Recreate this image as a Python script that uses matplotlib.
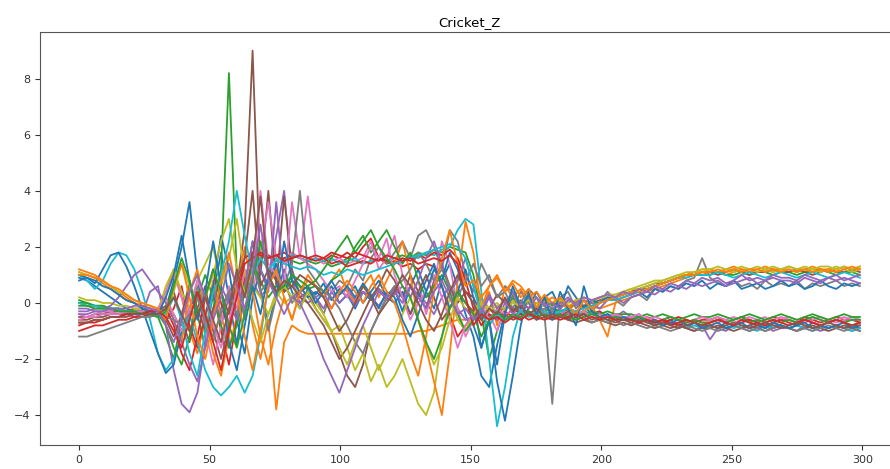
import numpy as np
import matplotlib
matplotlib.use("Agg")
import matplotlib.pyplot as plt

# sample positions (every 3rd step of the 300-step series)
t = np.linspace(0, 299, 100)

# series values, 10 values per row
s0 = [0.9, 0.8, 0.6, 0.4, 0.2, 0.0, -0.2, -0.3, -0.3, -0.4,
      -0.5, -0.2, 0.8, 2.0, 3.6, 1.0, -1.2, 0.3, 1.8, 0.2,
      -1.5, 0.6, 2.2, 0.5, -0.8, 0.3, 1.2, 0.4, -0.2, 0.5,
      0.3, 0.7, 0.1, 0.5, 0.2, 0.6, 0.0, 0.4, 0.8, 0.2,
      0.5, -0.3, 0.6, 1.2, 0.4, -0.2, 0.8, 1.4, 0.6, -0.4,
      -1.2, -2.6, -3.0, -1.5, -0.3, 0.2, -0.6, -0.2, 0.4, -0.1,
      -0.4, -0.2, -0.6, -0.3, -0.1, -0.4, -0.3, -0.5, -0.4, -0.6,
      -0.5, -0.7, -0.6, -0.8, -0.7, -0.6, -0.8, -0.9, -0.7, -0.8,
      -0.8, -0.9, -0.7, -0.8, -0.9, -0.8, -0.7, -0.9, -0.8, -0.8,
      -0.9, -0.8, -0.9, -0.7, -0.8, -0.9, -0.8, -0.9, -0.8, -0.9]
s1 = [1.1, 1.0, 0.9, 0.7, 0.5, 0.3, 0.1, 0.0, -0.1, -0.2,
      -0.3, 0.4, 1.2, 0.2, -1.0, -1.8, -0.6, 0.8, -0.4, -1.6,
      -0.5, 1.0, -0.8, -2.0, -0.6, -3.8, -1.4, -0.8, -1.0, -1.1,
      -1.1, -1.1, -1.1, -1.1, -1.1, -1.1, -1.1, -1.1, -1.1, -1.1,
      -1.1, -1.1, -1.1, -1.0, -1.0, -0.9, -0.8, -0.7, -0.6, -0.6,
      -0.5, -0.2, 0.4, -0.8, 0.6, 0.2, 0.5, 0.0, -0.3, 0.1,
      -0.1, 0.2, -0.3, 0.0, -0.2, -0.1, -0.2, -0.1, 0.0, 0.1,
      0.2, 0.3, 0.4, 0.5, 0.6, 0.7, 0.8, 0.9, 1.0, 1.0,
      1.1, 1.1, 1.0, 1.1, 1.2, 1.1, 1.1, 1.2, 1.1, 1.2,
      1.1, 1.2, 1.1, 1.2, 1.2, 1.1, 1.2, 1.1, 1.2, 1.2]
s2 = [0.1, 0.0, -0.1, -0.1, -0.2, -0.2, -0.3, -0.3, -0.4, -0.4,
      -0.5, -1.2, -2.0, -0.6, 0.8, -0.4, -1.6, -0.2, 1.2, 8.2,
      1.0, 0.2, 1.4, 1.6, 1.7, 1.5, 1.6, 1.5, 1.4, 1.5,
      1.4, 1.5, 1.3, 1.4, 1.6, 1.5, 1.4, 1.5, 1.6, 1.5,
      1.6, 1.7, 1.6, 1.8, 1.7, 1.9, 1.8, 2.0, 1.9, 1.8,
      1.0, -0.4, -2.0, -1.0, -0.2, 0.3, -0.4, 0.1, -0.2, 0.2,
      -0.1, 0.1, -0.2, 0.0, -0.1, 0.0, 0.0, 0.1, 0.2, 0.3,
      0.4, 0.5, 0.5, 0.6, 0.7, 0.8, 0.9, 1.0, 1.0, 1.0,
      1.0, 1.1, 1.0, 1.0, 1.1, 1.0, 1.1, 1.1, 1.0, 1.1,
      1.1, 1.0, 1.1, 1.1, 1.2, 1.1, 1.0, 1.1, 1.1, 1.0]
s3 = [-0.8, -0.7, -0.7, -0.6, -0.5, -0.5, -0.4, -0.4, -0.3, -0.3,
      -0.4, -0.6, -0.2, 0.6, -0.8, -1.6, -0.4, 0.4, -1.0, -2.2,
      -0.6, 0.8, 1.8, 1.6, 1.7, 1.5, 1.6, 1.7, 1.6, 1.5,
      1.6, 1.5, 1.7, 1.6, 1.8, 1.6, 2.0, 2.3, 1.6, 1.4,
      1.5, 1.3, 1.4, 1.2, 1.4, 1.3, 0.6, -0.4, -1.2, -0.8,
      -0.4, -0.2, -0.6, -0.3, -0.5, -0.2, -0.4, -0.3, -0.5, -0.4,
      -0.3, -0.4, -0.2, -0.4, -0.3, -0.4, -0.3, -0.5, -0.4, -0.5,
      -0.5, -0.6, -0.5, -0.6, -0.7, -0.6, -0.5, -0.6, -0.7, -0.6,
      -0.6, -0.5, -0.7, -0.6, -0.5, -0.6, -0.7, -0.6, -0.5, -0.6,
      -0.6, -0.7, -0.5, -0.6, -0.7, -0.6, -0.5, -0.6, -0.6, -0.7]
s4 = [-0.2, -0.2, -0.3, -0.3, -0.3, -0.4, -0.4, -0.5, -0.4, 0.4,
      0.6, -0.8, -2.4, -3.6, -3.9, -3.2, -1.4, 0.6, -0.8, 0.2,
      1.0, -0.4, 0.8, 0.2, 0.6, 2.4, 4.0, 0.8, 0.0, 0.4,
      0.2, 0.4, -0.2, 0.3, 0.5, 0.1, 0.4, 0.2, -0.1, 0.3,
      0.5, 0.2, 0.6, 0.3, 0.0, -0.4, 0.2, 0.6, -0.2, -0.6,
      -0.5, -0.5, -0.5, -0.5, -0.6, -0.5, -0.5, -0.4, -0.5, -0.4,
      -0.5, -0.4, -0.5, -0.3, -0.4, -0.5, -0.6, -0.4, -0.5, -0.3,
      -0.5, -0.4, -0.6, -0.7, -0.6, -0.8, -0.7, -0.9, -1.0, -0.8,
      -1.3, -0.9, -1.0, -0.8, -0.9, -1.0, -0.9, -0.8, -1.0, -0.9,
      -0.9, -1.0, -0.8, -0.9, -1.0, -0.9, -0.8, -0.9, -1.0, -0.9]
s5 = [-0.5, -0.5, -0.4, -0.4, -0.3, -0.3, -0.3, -0.2, -0.2, -0.2,
      -0.3, -0.1, 0.4, -0.6, -1.4, -0.2, 0.6, -1.0, -2.0, -0.8,
      0.6, 2.6, 9.0, 1.0, 4.0, 0.6, 3.8, 1.2, 0.2, 0.4,
      -0.2, -0.6, -1.0, -1.8, -2.6, -3.0, -2.2, -1.0, -0.4, 0.2,
      0.6, 0.2, 1.0, 0.4, -0.2, 0.8, 1.4, 0.6, 0.0, 0.4,
      0.2, -0.4, -0.2, 0.3, 0.0, -0.3, 0.1, -0.2, 0.0, -0.1,
      0.0, -0.2, 0.1, 0.0, -0.1, 0.0, 0.1, 0.2, 0.2, 0.3,
      0.4, 0.5, 0.6, 0.7, 0.7, 0.8, 0.9, 1.0, 1.0, 1.1,
      1.1, 1.0, 1.1, 1.2, 1.1, 1.0, 1.1, 1.1, 1.2, 1.1,
      1.1, 1.2, 1.1, 1.0, 1.1, 1.2, 1.1, 1.1, 1.2, 1.1]
s6 = [-0.4, -0.5, -0.4, -0.3, -0.3, -0.4, -0.3, -0.3, -0.3, -0.3,
      -0.2, 0.4, 1.0, 0.2, -0.6, 0.4, -1.0, -2.2, -0.8, 0.6,
      -0.2, 1.2, 0.4, 1.8, 3.6, 1.6, 1.4, 1.8, 1.6, 3.8,
      1.6, 1.4, 1.5, 1.6, 1.4, 1.5, 1.6, 2.2, 1.2, 1.6,
      2.4, 1.0, 0.2, 0.8, -0.4, 0.6, 2.2, 1.4, -0.2, -1.2,
      -0.6, 0.2, -0.4, -1.0, -0.2, 0.4, -0.3, 0.1, -0.4, -0.2,
      -0.3, -0.2, -0.4, -0.3, -0.5, -0.3, -0.4, -0.5, -0.4, -0.5,
      -0.5, -0.6, -0.5, -0.7, -0.6, -0.5, -0.6, -0.7, -0.6, -0.5,
      -0.6, -0.7, -0.6, -0.5, -0.6, -0.7, -0.6, -0.5, -0.7, -0.6,
      -0.5, -0.6, -0.7, -0.6, -0.5, -0.6, -0.7, -0.6, -0.5, -0.6]
s7 = [0.0, -0.1, -0.1, -0.2, -0.2, -0.3, -0.3, -0.3, -0.4, -0.4,
      -0.5, -0.6, -0.4, -1.0, -0.2, 0.6, -0.8, -1.4, -0.2, 0.4,
      0.8, -0.6, 1.6, 0.4, -1.0, 0.2, 0.8, 0.0, 0.4, 0.6,
      0.2, -0.4, 0.4, 0.8, 0.6, 1.2, 0.8, 1.6, 2.0, 1.4,
      1.8, 2.2, 1.6, 2.4, 2.6, 2.0, 1.2, 2.6, 2.2, 1.0,
      0.4, 1.4, 0.8, 0.2, 0.6, 0.4, 0.0, 0.5, 0.2, -0.4,
      -3.6, 0.2, 0.4, -0.2, 0.1, -0.3, 0.0, 0.4, 0.1, -0.1,
      0.2, 0.3, 0.1, 0.5, 0.4, 0.6, 0.5, 0.8, 0.9, 1.6,
      0.9, 0.7, 0.6, 0.8, 0.6, 0.7, 0.5, 0.8, 0.6, 0.7,
      0.6, 0.8, 0.5, 0.7, 0.6, 0.7, 0.8, 0.6, 0.7, 0.6]
s8 = [0.2, 0.1, 0.1, 0.0, 0.0, -0.1, -0.1, -0.2, -0.2, -0.3,
      -0.3, 0.6, 1.2, 0.4, -0.2, 0.8, 1.4, 2.0, 0.6, 1.6,
      3.0, 1.0, 0.6, 0.2, -0.4, 0.4, 0.0, 0.2, 0.6, 0.2,
      -0.2, -0.6, -1.0, -0.8, -1.6, -2.4, -1.8, -2.8, -2.2, -3.0,
      -2.6, -2.0, -2.8, -3.6, -4.0, -3.2, -1.2, 0.2, -0.6, -1.0,
      -0.4, 0.2, -0.2, 0.0, -0.3, 0.1, -0.2, 0.0, -0.1, 0.1,
      0.0, 0.1, -0.1, 0.0, 0.1, 0.0, 0.2, 0.2, 0.3, 0.4,
      0.5, 0.5, 0.6, 0.7, 0.8, 0.9, 1.0, 1.0, 1.1, 1.1,
      1.2, 1.1, 1.2, 1.1, 1.2, 1.2, 1.1, 1.2, 1.1, 1.2,
      1.2, 1.1, 1.2, 1.2, 1.1, 1.2, 1.3, 1.2, 1.1, 1.2]
s9 = [1.0, 0.8, 0.5, 0.8, 1.4, 1.8, 1.7, 1.2, 0.4, -0.6,
      -1.8, -2.4, -2.0, -1.2, -0.4, -1.4, -2.4, -3.0, -3.3, -3.0,
      -2.6, -3.2, -2.6, -1.2, 0.6, 1.6, 1.5, 1.7, 1.6, 1.5,
      1.6, 1.5, 1.6, 1.4, 1.5, 1.6, 1.4, 1.5, 1.6, 1.5,
      1.6, 1.5, 1.7, 1.6, 1.8, 1.7, 1.9, 2.0, 2.6, 3.0,
      2.8, 0.4, -2.0, -4.4, -3.0, -1.2, -0.2, 0.4, -0.3, 0.0,
      -0.2, -0.4, -0.1, -0.5, -0.3, -0.4, -0.5, -0.4, -0.6, -0.5,
      -0.6, -0.7, -0.6, -0.7, -0.8, -0.7, -0.8, -0.9, -0.8, -0.9,
      -0.8, -0.9, -0.8, -0.9, -0.8, -0.9, -1.0, -0.8, -0.9, -0.8,
      -0.9, -0.8, -0.9, -1.0, -0.8, -0.9, -0.8, -0.9, -1.0, -0.9]
s10 = [0.8, 0.9, 0.7, 1.2, 1.7, 1.8, 1.3, 0.6, -0.2, -1.0,
       -1.8, -2.5, -2.2, -1.0, -0.2, 0.4, -0.4, 0.6, 2.4, 1.2,
       -0.6, -1.8, 0.2, 1.2, 0.6, 1.4, 0.4, 1.0, 0.6, 0.2,
       0.4, 0.2, 0.6, 0.0, 0.3, -0.2, 0.4, 0.1, 0.5, 0.2,
       0.0, 0.4, -0.4, 0.2, 0.8, 1.4, 0.6, -0.2, 0.4, 1.2,
       0.2, -1.6, -0.6, -2.8, -4.2, -2.6, -0.8, 0.4, -0.6, 0.2,
       0.4, -0.2, 0.6, 0.2, -0.2, 0.1, 0.0, 0.2, 0.1, 0.2,
       0.3, 0.4, 0.2, 0.5, 0.4, 0.6, 0.5, 0.7, 0.6, 0.8,
       0.5, 0.7, 0.6, 0.8, 0.5, 0.6, 0.7, 0.5, 0.6, 0.8,
       0.6, 0.7, 0.5, 0.6, 0.8, 0.6, 0.5, 0.7, 0.6, 0.7]
s11 = [1.2, 1.1, 1.0, 0.8, 0.6, 0.4, 0.2, 0.0, -0.1, -0.2,
       -0.2, 0.2, -0.6, -1.4, 0.4, 1.2, -0.4, -1.8, -2.6, -1.2,
       0.6, 2.0, 0.4, -1.2, -2.2, -0.8, 0.2, -0.6, 0.4, 1.0,
       0.6, 0.2, 0.8, 1.2, 0.4, 0.0, 0.6, 1.0, 0.2, 0.8,
       1.4, 2.2, 1.0, -0.6, -1.6, -2.8, -4.0, -1.8, 0.8, 2.9,
       1.8, -0.2, 0.6, 1.0, 0.4, 0.8, 0.6, 0.2, 0.4, 0.0,
       0.2, 0.0, -0.2, 0.1, -0.3, -0.1, -0.6, -1.2, 0.0, 0.2,
       0.3, 0.5, 0.4, 0.6, 0.7, 0.8, 0.9, 1.0, 1.1, 1.2,
       1.2, 1.1, 1.2, 1.3, 1.2, 1.1, 1.2, 1.3, 1.2, 1.2,
       1.3, 1.2, 1.2, 1.3, 1.2, 1.1, 1.2, 1.3, 1.2, 1.3]
s12 = [0.0, 0.0, -0.1, -0.1, -0.2, -0.2, -0.3, -0.3, -0.3, -0.4,
       -0.4, -0.8, -1.6, -2.2, -1.2, 0.2, 1.0, 0.2, -0.8, -1.6,
       -0.8, 0.4, 1.4, 0.8, 0.2, 0.6, 0.4, 0.8, 0.6, 0.5,
       0.6, 0.4, 0.8, 1.0, 1.4, 2.0, 2.4, 1.8, 2.2, 2.6,
       2.0, 1.4, 1.8, 0.8, 0.2, 0.6, 1.0, 0.4, -0.4, -1.0,
       -0.6, -0.2, -0.5, -0.3, -0.6, -0.4, -0.5, -0.3, -0.4, -0.3,
       -0.2, -0.3, -0.2, -0.3, -0.4, -0.3, -0.4, -0.3, -0.4, -0.4,
       -0.4, -0.5, -0.4, -0.5, -0.4, -0.5, -0.6, -0.5, -0.4, -0.5,
       -0.5, -0.4, -0.5, -0.6, -0.5, -0.4, -0.5, -0.6, -0.5, -0.4,
       -0.5, -0.6, -0.5, -0.4, -0.5, -0.6, -0.5, -0.4, -0.5, -0.5]
s13 = [-1.0, -0.9, -0.8, -0.8, -0.7, -0.6, -0.6, -0.5, -0.5, -0.4,
       -0.4, -0.2, -0.8, -1.8, -2.4, -1.2, 0.2, 1.2, 0.0, -1.0,
       0.4, 1.6, 1.8, 1.7, 1.6, 1.7, 1.8, 1.6, 1.7, 1.6,
       1.5, 1.6, 1.4, 1.5, 1.3, 1.4, 1.5, 1.4, 1.6, 1.5,
       1.4, 1.6, 1.5, 1.7, 1.6, 1.8, 1.7, 1.9, 1.6, 0.8,
       -0.2, -0.8, -0.4, -0.6, -0.3, -0.5, -0.4, -0.6, -0.5, -0.4,
       -0.5, -0.4, -0.6, -0.5, -0.4, -0.5, -0.6, -0.5, -0.6, -0.5,
       -0.6, -0.7, -0.6, -0.7, -0.6, -0.7, -0.8, -0.7, -0.6, -0.7,
       -0.7, -0.6, -0.7, -0.8, -0.7, -0.6, -0.7, -0.8, -0.7, -0.6,
       -0.7, -0.8, -0.6, -0.7, -0.8, -0.7, -0.6, -0.7, -0.8, -0.7]
s14 = [-0.3, -0.3, -0.2, -0.2, -0.1, 0.2, 0.6, 1.0, 1.2, 0.8,
       0.4, 0.0, -0.6, -1.4, -2.2, -2.8, -1.6, -0.4, 0.6, 0.0,
       -0.6, 0.6, 2.2, 1.2, 0.4, 3.6, 0.6, 0.2, 0.4, 0.0,
       0.2, -0.2, 0.4, 0.0, 0.3, -0.1, 0.4, 0.2, 0.5, 0.1,
       0.3, 0.6, 0.2, 0.8, 1.6, 2.2, 1.4, 0.4, 0.8, 1.6,
       0.6, -0.4, 0.2, -0.6, 0.0, 0.4, -0.2, 0.2, -0.3, 0.0,
       -0.2, 0.0, 0.2, -0.1, 0.1, 0.0, -0.2, 0.1, 0.2, 0.0,
       0.2, 0.3, 0.4, 0.3, 0.5, 0.4, 0.6, 0.5, 0.7, 0.6,
       0.7, 0.8, 0.6, 0.7, 0.8, 0.9, 0.7, 0.8, 0.9, 0.8,
       0.8, 0.7, 0.9, 0.8, 0.7, 0.9, 0.8, 0.9, 0.8, 0.7]
s15 = [-0.6, -0.6, -0.5, -0.5, -0.4, -0.4, -0.4, -0.3, -0.3, -0.3,
       -0.2, -0.6, -1.2, -0.4, 0.6, -0.2, -1.0, -0.2, 0.4, -0.4,
       0.8, 1.6, 4.0, 0.6, 1.2, 0.8, 0.4, 0.6, 0.2, 0.0,
       -0.4, -0.8, -1.4, -2.0, -1.6, -1.0, -0.4, 0.2, 0.6, 1.2,
       0.8, 0.2, -0.4, 0.4, 1.0, 0.2, -0.6, -0.2, 0.4, 0.0,
       -0.3, -0.6, -0.2, -0.5, -0.4, -0.6, -0.5, -0.4, -0.6, -0.5,
       -0.6, -0.5, -0.6, -0.7, -0.6, -0.7, -0.6, -0.7, -0.8, -0.7,
       -0.8, -0.7, -0.8, -0.9, -0.8, -0.9, -0.8, -0.9, -1.0, -0.9,
       -0.9, -0.8, -0.9, -1.0, -0.9, -0.8, -0.9, -1.0, -0.9, -0.8,
       -0.9, -1.0, -0.9, -0.8, -0.9, -1.0, -0.9, -0.8, -0.9, -1.0]
s16 = [-0.6, -0.5, -0.5, -0.4, -0.4, -0.4, -0.3, -0.3, -0.3, -0.2,
       -0.2, 0.2, -0.4, -1.0, -0.2, 0.8, 0.2, -0.8, -1.6, -0.6,
       0.4, -0.2, 0.8, 4.0, 1.4, 1.0, 0.6, 3.6, 1.6, 1.4,
       1.2, 0.8, 0.4, 0.6, 0.2, 0.8, 1.4, 2.0, 1.6, 2.3,
       1.0, 0.2, -0.6, 0.0, 0.4, 1.0, 0.2, -0.6, -1.6, -0.8,
       -0.4, 0.0, -0.6, -0.2, -0.4, -0.3, -0.5, -0.4, -0.3, -0.4,
       -0.4, -0.3, -0.5, -0.4, -0.3, -0.5, -0.4, -0.5, -0.4, -0.5,
       -0.5, -0.4, -0.6, -0.5, -0.6, -0.5, -0.6, -0.7, -0.6, -0.5,
       -0.6, -0.5, -0.6, -0.7, -0.6, -0.5, -0.6, -0.7, -0.6, -0.5,
       -0.6, -0.7, -0.6, -0.5, -0.6, -0.7, -0.6, -0.5, -0.6, -0.6]
s17 = [-1.2, -1.2, -1.1, -1.0, -0.9, -0.8, -0.7, -0.6, -0.5, -0.5,
       -0.4, -0.5, -0.6, -0.8, -0.4, 0.2, -0.6, -1.2, -0.4, 0.4,
       -0.4, 0.6, 1.4, 0.4, 0.8, 0.2, 0.6, 1.4, 4.0, 1.2,
       0.8, 0.4, 0.2, -0.2, -0.8, -1.4, -1.8, -1.0, -0.4, 0.2,
       0.6, 0.8, 1.2, 1.8, 1.4, 0.8, 1.2, 0.6, 0.2, 0.8,
       1.4, 0.6, 1.0, 0.2, 0.4, -0.2, 0.4, 0.0, -0.4, -0.2,
       -0.3, -0.5, -0.4, -0.6, -0.5, -0.7, -0.6, -0.7, -0.6, -0.8,
       -0.7, -0.8, -0.9, -0.8, -0.9, -1.0, -0.9, -0.8, -0.9, -1.0,
       -0.9, -1.0, -0.9, -0.8, -0.9, -1.0, -0.9, -1.0, -0.9, -0.8,
       -0.9, -1.0, -0.9, -1.0, -0.9, -0.8, -0.9, -1.0, -0.9, -1.0]
s18 = [1.1, 1.0, 0.9, 0.8, 0.6, 0.4, 0.3, 0.1, 0.0, -0.1,
       -0.2, -0.4, 0.4, 1.4, 0.6, -0.4, 0.2, 1.0, 2.2, 3.0,
       1.2, 0.4, -0.6, -1.4, -0.4, 0.2, 0.6, 0.2, -0.2, 0.4,
       0.0, -0.4, -1.0, -1.6, -2.2, -1.4, -0.8, -1.6, -2.4, -1.8,
       -1.2, -0.4, 0.2, -0.6, -1.4, -2.2, -1.6, -0.6, 0.2, -0.2,
       -0.4, 0.0, -0.3, -0.1, -0.2, 0.0, -0.1, 0.1, 0.0, -0.1,
       0.0, 0.1, 0.0, 0.1, 0.2, 0.1, 0.2, 0.3, 0.3, 0.4,
       0.5, 0.6, 0.7, 0.8, 0.8, 0.9, 1.0, 1.1, 1.1, 1.2,
       1.2, 1.3, 1.2, 1.2, 1.3, 1.2, 1.3, 1.2, 1.3, 1.2,
       1.3, 1.2, 1.3, 1.2, 1.3, 1.3, 1.2, 1.3, 1.2, 1.3]
s19 = [0.0, -0.1, -0.1, -0.2, -0.2, -0.2, -0.3, -0.3, -0.4, -0.4,
       -0.5, -0.4, 0.2, -0.6, -1.8, -2.6, -1.0, 0.4, 1.0, 2.2,
       4.0, 2.4, 1.0, 1.6, 1.2, 1.5, 1.4, 1.3, 1.2, 1.3,
       1.2, 1.0, 1.1, 1.0, 1.2, 1.1, 1.0, 1.1, 1.2, 1.3,
       1.4, 1.5, 1.6, 1.7, 1.8, 1.9, 2.0, 2.1, 2.0, 1.6,
       0.6, -0.4, -0.8, -0.4, -0.6, -0.5, -0.3, -0.5, -0.4, -0.3,
       -0.4, -0.3, -0.2, -0.3, -0.2, -0.1, 0.0, 0.1, 0.1, 0.2,
       0.3, 0.4, 0.5, 0.6, 0.7, 0.8, 0.9, 0.9, 1.0, 1.0,
       1.0, 1.1, 1.0, 0.9, 1.0, 1.1, 1.0, 0.9, 1.0, 1.1,
       1.0, 0.9, 1.0, 1.1, 1.0, 0.9, 1.0, 1.1, 1.0, 0.9]
s20 = [1.0, 0.9, 0.8, 0.6, 0.5, 0.3, 0.1, 0.0, -0.2, -0.3,
       -0.4, 0.2, 1.0, 2.4, 0.8, -0.6, 0.4, 2.2, 0.6, -1.4,
       -2.4, -0.8, 0.6, -0.4, 1.0, 0.2, 2.2, 0.8, 0.4, 0.6,
       0.0, 0.4, 0.8, 0.3, 0.6, 0.2, 0.7, 0.3, -0.2, 0.4,
       0.2, -0.6, -1.2, -0.4, 0.4, 1.2, 0.8, 1.8, 1.2, 0.2,
       -0.8, -1.6, -0.6, -2.2, -0.4, 0.6, -0.2, 0.3, -0.4, 0.2,
       -0.6, 0.4, -0.2, -0.8, 0.6, -0.3, -0.5, -0.4, -0.6, -0.5,
       -0.6, -0.5, -0.7, -0.6, -0.8, -0.7, -0.6, -0.8, -0.7, -0.9,
       -0.8, -0.7, -0.9, -0.8, -0.7, -0.9, -0.8, -0.9, -0.7, -0.8,
       -0.9, -0.8, -0.7, -0.9, -0.8, -0.9, -0.8, -0.7, -0.9, -0.8]
s21 = [1.0, 1.0, 0.9, 0.8, 0.6, 0.5, 0.3, 0.1, 0.0, -0.1,
       -0.2, -0.6, 0.6, 1.4, 0.2, -1.2, -2.0, -0.6, 0.8, 1.8,
       0.4, -1.2, -2.4, -1.0, 0.6, 1.2, 0.2, -0.6, 0.4, 0.8,
       0.6, 0.2, -0.2, 0.4, 0.8, 0.4, 0.0, 0.6, 1.0, 0.4,
       0.0, -0.8, -1.8, -2.6, -1.2, 0.4, 1.6, 2.6, 1.4, 0.6,
       0.8, 0.2, 0.6, 0.9, 0.4, 0.7, 0.2, 0.5, -0.2, 0.3,
       0.0, 0.2, -0.1, -0.4, 0.1, -0.2, 0.0, 0.1, 0.2, 0.3,
       0.4, 0.4, 0.5, 0.6, 0.7, 0.8, 0.9, 1.0, 1.0, 1.1,
       1.1, 1.2, 1.1, 1.2, 1.1, 1.2, 1.2, 1.1, 1.2, 1.1,
       1.2, 1.1, 1.2, 1.1, 1.2, 1.2, 1.1, 1.2, 1.3, 1.2]
s22 = [-0.1, -0.1, -0.2, -0.2, -0.2, -0.3, -0.3, -0.3, -0.4, -0.4,
       -0.5, -0.3, 0.6, 1.6, 0.8, -0.4, 0.2, 1.2, 0.4, -0.8,
       -1.6, -0.4, 0.8, 2.2, 1.0, 0.4, 0.6, 1.0, 0.8, 0.6,
       0.8, 1.2, 1.6, 2.0, 2.4, 1.8, 2.2, 2.6, 2.0, 1.6,
       1.2, 0.6, 0.2, -0.6, -1.4, -2.0, -1.2, -0.2, 0.4, 0.0,
       -0.4, -1.2, -0.6, -0.3, -0.6, -0.4, -0.5, -0.3, -0.5, -0.4,
       -0.5, -0.4, -0.5, -0.6, -0.5, -0.4, -0.5, -0.6, -0.5, -0.6,
       -0.6, -0.5, -0.6, -0.7, -0.6, -0.5, -0.6, -0.7, -0.6, -0.7,
       -0.7, -0.6, -0.7, -0.6, -0.5, -0.7, -0.6, -0.7, -0.6, -0.7,
       -0.6, -0.7, -0.6, -0.5, -0.6, -0.7, -0.6, -0.7, -0.6, -0.6]
s23 = [-0.7, -0.7, -0.6, -0.6, -0.5, -0.5, -0.4, -0.4, -0.4, -0.3,
       -0.3, -0.5, -1.0, -1.6, -0.6, 0.4, -0.4, -1.4, -2.4, -1.0,
       0.2, 1.4, 1.6, 1.8, 1.6, 1.7, 1.5, 1.6, 1.7, 1.6,
       1.7, 1.6, 1.8, 1.7, 1.6, 1.8, 1.7, 1.6, 1.5, 1.7,
       1.6, 1.5, 1.6, 1.4, 1.5, 1.6, 1.5, 1.7, 1.4, 0.2,
       -0.8, -0.4, -0.6, -0.5, -0.7, -0.5, -0.6, -0.4, -0.5, -0.6,
       -0.5, -0.6, -0.5, -0.4, -0.6, -0.5, -0.6, -0.5, -0.6, -0.6,
       -0.6, -0.7, -0.6, -0.7, -0.6, -0.8, -0.7, -0.6, -0.7, -0.8,
       -0.7, -0.6, -0.7, -0.8, -0.6, -0.7, -0.8, -0.7, -0.6, -0.7,
       -0.8, -0.7, -0.6, -0.7, -0.8, -0.7, -0.6, -0.7, -0.8, -0.7]
s24 = [-0.4, -0.4, -0.3, -0.3, -0.2, -0.2, -0.2, -0.1, -0.1, -0.2,
       -0.3, -0.8, -1.4, -0.6, 0.4, 1.0, 0.2, -0.6, 0.2, 1.4,
       0.6, -0.2, 1.0, 2.8, 0.8, 0.2, -0.4, 0.2, 0.0, -0.6,
       -1.2, -2.0, -2.6, -3.2, -2.4, -1.6, -0.8, -0.2, 0.4, 0.2,
       0.4, 0.0, 0.6, 0.2, -0.2, 0.4, 0.8, 0.2, -0.4, -0.2,
       -0.6, -0.3, 0.3, -0.2, 0.1, -0.4, 0.0, -0.2, 0.2, -0.1,
       0.0, -0.2, 0.1, 0.0, 0.2, 0.1, 0.2, 0.3, 0.2, 0.4,
       0.3, 0.5, 0.4, 0.6, 0.5, 0.7, 0.6, 0.8, 0.7, 0.9,
       0.8, 0.9, 0.7, 0.8, 1.0, 0.8, 0.9, 0.8, 1.0, 0.9,
       0.9, 0.8, 1.0, 0.9, 0.8, 0.9, 1.0, 0.8, 0.9, 1.0]
s25 = [-0.7, -0.7, -0.6, -0.6, -0.5, -0.5, -0.5, -0.4, -0.4, -0.4,
       -0.4, -0.2, 0.2, -0.4, -1.0, -0.4, 0.2, -0.6, -1.4, -0.2,
       1.2, 0.2, 1.6, 3.8, 1.0, 0.4, 0.8, 0.6, 1.0, 0.8,
       0.6, 0.2, -0.4, -1.0, -0.6, 0.0, 0.6, 0.2, -0.4, 0.0,
       0.4, 1.0, 0.6, 0.0, -0.6, -1.0, -0.4, 0.4, 1.0, 0.4,
       0.0, -0.6, -0.2, -0.4, 0.2, -0.3, -0.1, -0.4, -0.2, -0.5,
       -0.4, -0.5, -0.3, -0.5, -0.4, -0.6, -0.5, -0.6, -0.7, -0.6,
       -0.7, -0.6, -0.7, -0.8, -0.7, -0.8, -0.9, -0.8, -0.7, -0.8,
       -0.8, -0.9, -0.8, -0.7, -0.8, -0.9, -0.8, -0.7, -0.8, -0.9,
       -0.8, -0.7, -0.8, -0.9, -0.8, -0.7, -0.8, -0.9, -0.8, -0.8]

series = [s0, s1, s2, s3, s4, s5, s6, s7, s8, s9,
          s10, s11, s12, s13, s14, s15, s16, s17, s18, s19,
          s20, s21, s22, s23, s24, s25]

fig = plt.figure(figsize=(8.9, 4.69), dpi=100)
# axes runs a little past the right edge, as in the reference crop
ax = fig.add_axes([0.045, 0.051, 0.965, 0.881])
for s in series:
    ax.plot(t, s, linewidth=1.3)

ax.set_title('Cricket_Z', fontsize=9.5, pad=4)
ax.tick_params(labelsize=8, colors='#333333')
for sp in ax.spines.values():
    sp.set_color('#555555')

fig.savefig('out.png', dpi=100)
